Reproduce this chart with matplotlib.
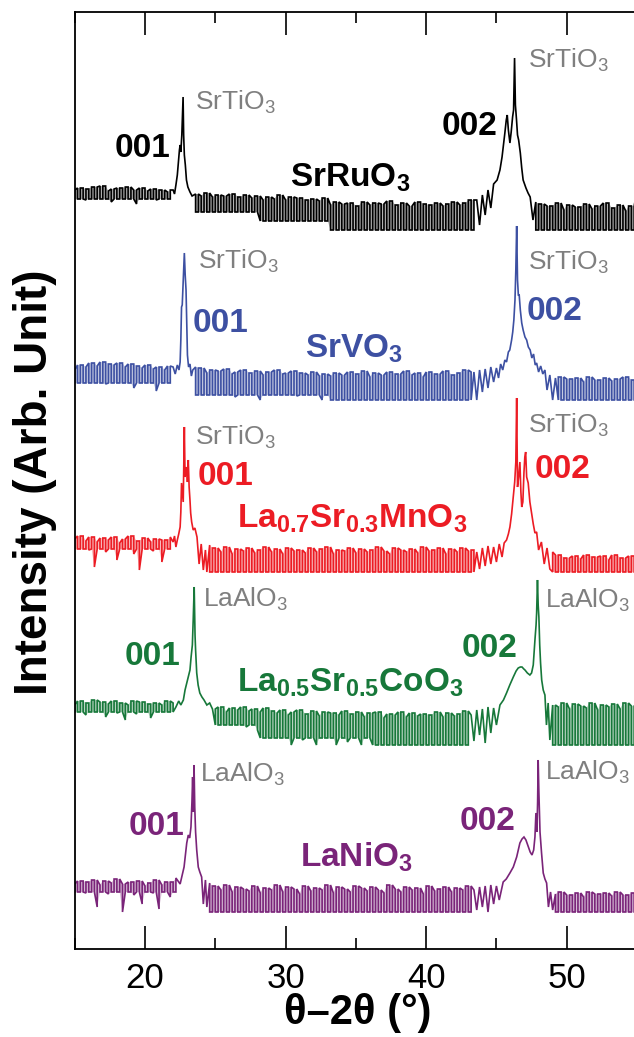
import numpy as np
import matplotlib
matplotlib.use("Agg")
import matplotlib.pyplot as plt
from matplotlib.ticker import MultipleLocator

plt.rcParams['font.family'] = ['Liberation Sans', 'DejaVu Sans']
plt.rcParams['mathtext.fontset'] = 'custom'
plt.rcParams['mathtext.rm'] = 'Liberation Sans'
plt.rcParams['mathtext.bf'] = 'Liberation Sans:bold'
plt.rcParams['mathtext.default'] = 'regular'

# ---------------- data ----------------
two_theta = np.round(np.linspace(15, 55, 201), 2)   # 0.2 deg scan bins

names = ['SrRuO$_3$', 'SrVO$_3$', 'La$_{0.7}$Sr$_{0.3}$MnO$_3$',
         'La$_{0.5}$Sr$_{0.5}$CoO$_3$', 'LaNiO$_3$']
substrates = ['SrTiO$_3$', 'SrTiO$_3$', 'SrTiO$_3$', 'LaAlO$_3$', 'LaAlO$_3$']
colors = ['#000000', '#3d50a2', '#ec1c24', '#17783a', '#7a2479']
offsets = [719, 549, 377, 204, 37]

# per-bin values of the noisy background
srruo3_bg = [40,33,42,36,30,41,35,43,32,38,44,34,39,28,41,36,42,31,37,43,35,40,26,38,42,33,39,35,41,30,37,40,34,38,36,40,
             43,63,133,70,45,38,
             32,36,25,34,30,37,22,33,28,35,31,18,34,29,36,27,33,20,31,35,26,32,29,34,15,30,27,33,24,31,28,35,22,30,26,33,19,29,32,25,30,12,28,31,24,29,27,32,21,
             25,10,28,18,26,5,22,27,14,24,0,20,28,12,25,19,27,8,23,26,15,29,0,21,25,11,27,17,24,3,22,28,13,26,20,25,0,23,27,16,24,9,26,21,28,14,25,0,27,22,30,18,
             30,35,40,45,50,55,65,80,115,87,113,110,90,77,60,50,43,37,33,30,28,
             22,0,26,8,0,24,15,0,27,5,20,0,25,12,0,23,18,0,26,3,21,0,24,10,0,27,16,0,22,6,25,0,19,0,24,13,0]
# band bottom levels: [start, end, level]
srruo3_band = [[15.0, 22.0, 31], [23.4, 28.0, 18], [28.2, 33.0, 9], [33.2, 55.0, 0]]
srruo3_p1_x = [22.0,22.1,22.2,22.3,22.35,22.45,22.5,22.55,22.62,22.68,22.71,22.75,22.8,22.87,22.95,23.05,23.2,23.35]
srruo3_p1_y = [40,36,45,55,63,80,85,78,95,120,133,95,75,65,50,43,38,34]
srruo3_p2_x = [43.6,43.8,44.0,44.2,44.4,44.6,44.8,45.05,45.25,45.4,45.5,45.6,45.7,45.77,45.85,45.96,46.05,46.15,46.22,46.29,
               46.35,46.43,46.5,46.58,46.7,46.8,46.9,47.0,47.1,47.25,47.4,47.6]
srruo3_p2_y = [30,5,35,15,40,22,46,50,60,73,85,97,110,115,100,87,98,113,120,172,125,110,95,90,77,62,50,46,42,37,33,10]

srvo3_bg = [30,22,35,18,33,27,37,20,34,25,38,16,36,28,35,22,37,19,33,26,36,12,34,24,32,18,35,27,31,9,33,23,30,17,34,26,
            30,38,95,147,110,45,33,
            28,20,32,12,27,22,30,6,25,29,15,31,21,26,3,28,18,30,24,10,27,22,29,0,25,19,28,13,24,30,8,26,21,27,16,29,4,23,27,18,25,11,28,20,24,0,26,17,
            24,8,27,15,0,25,19,28,4,22,26,12,29,0,23,18,27,7,25,21,0,28,14,24,26,3,22,29,11,25,0,27,17,23,9,28,20,0,26,13,24,29,6,25,19,0,27,22,30,15,28,
            28,30,32,33,35,38,40,45,50,60,70,110,174,105,77,63,55,50,45,40,37,33,30,28,27,25,24,23,22,
            20,0,23,9,0,21,14,0,22,5,18,0,23,11,0,20,16,0,22,2,19,0,21,8,0,23,13,0,20,6]
srvo3_band = [[15.0, 22.0, 17], [23.4, 33.0, 5], [33.2, 55.0, 0]]
srvo3_p1_x = [22.0,22.15,22.3,22.42,22.5,22.55,22.6,22.65,22.72,22.8,22.86,22.92,22.97,23.02,23.1,23.2,23.3,23.4]
srvo3_p1_y = [33,26,35,30,38,60,93,95,120,147,125,110,75,45,33,36,24,30]
srvo3_p2_x = [43.4,43.6,43.8,44.0,44.2,44.4,44.6,44.8,45.0,45.15,45.3,45.45,45.6,45.72,45.85,45.95,46.08,46.16,46.24,46.32,
              46.38,46.44,46.5,46.56,46.62,46.7,46.8,46.9,47.03,47.15,47.27,47.4,47.52,47.64,47.76,47.86,48.0,48.15,48.3,48.45,
              48.6,48.8,49.0,49.2]
srvo3_p2_y = [28,0,30,8,31,12,33,18,32,22,36,30,40,38,48,50,60,68,80,100,130,174,120,105,105,90,77,70,63,60,
              53,50,42,46,35,37,28,34,26,30,10,25,0,22]

lsmo_bg = [33,24,36,28,31,22,35,5,30,26,34,20,32,27,35,12,29,25,33,23,36,18,31,2,28,34,24,30,21,33,27,10,32,25,29,35,
           32,45,89,145,105,59,42,
           38,35,30,28,27,
           22,0,24,3,20,0,25,6,18,0,23,2,21,0,24,8,19,0,22,4,25,0,20,1,23,0,18,5,24,0,21,3,22,0,19,7,24,0,20,2,
           23,0,25,5,18,0,22,0,21,6,24,0,19,3,23,0,20,0,22,8,25,0,21,2,18,0,24,4,22,0,20,6,23,0,19,0,25,3,21,0,
           22,5,24,0,18,2,23,0,20,0,24,7,21,0,22,
           22,24,25,26,27,28,30,32,45,75,174,65,120,89,59,39,35,30,27,25,23,22,21,20,22,21,20,
           15,0,17,3,0,14,9,0,16,2,13,0,17,6,0,15,11,0,16,0,12,0,17,4,0,14,10,0,16,1,15]
lsmo_band = [[15.0, 22.0, 23], [24.4, 55.0, 0]]
lsmo_p1_x = [22.0,22.1,22.2,22.3,22.4,22.5,22.55,22.6,22.66,22.72,22.8,22.85,22.9,22.96,23.02,23.08,23.14,23.2,23.25,23.32,
             23.43,23.55,23.7,23.85,24.0,24.15,24.3,24.4]
lsmo_p1_y = [30,36,25,32,38,45,60,89,80,70,145,95,100,105,90,112,85,72,59,50,42,44,35,8,28,2,22,0]
lsmo_p2_x = [43.6,43.8,44.0,44.2,44.4,44.6,44.8,45.0,45.2,45.4,45.55,45.72,45.85,45.96,46.08,46.2,46.3,46.38,46.44,46.5,
             46.58,46.67,46.74,46.8,46.88,46.96,47.02,47.08,47.15,47.26,47.38,47.5,47.62,47.74,47.86,48.0,48.2,48.4,48.6,48.8]
lsmo_p2_y = [20,3,24,6,26,8,25,10,28,15,29,32,38,45,58,75,90,110,174,85,95,110,80,65,70,100,115,120,95,89,
             70,59,48,39,40,22,30,8,24,3]

lsco_bg = [40,34,44,37,30,42,36,45,33,39,43,28,41,35,44,32,38,42,25,40,36,44,31,39,43,34,41,27,38,42,35,40,33,44,37,41,
           42,45,50,62,75,158,72,52,45,42,40,38,36,35,
           36,24,38,28,33,20,37,26,35,22,38,18,34,27,36,15,33,25,37,21,34,8,32,26,35,12,30,0,33,19,35,5,28,31,14,34,0,29,22,33,
           9,27,32,0,30,17,34,3,26,31,11,33,0,28,20,32,6,29,33,0,27,15,31,2,30,24,33,10,28,0,32,18,29,4,31,26,0,30,13,33,
           7,28,25,32,0,29,16,31,22,34,27,
           30,33,28,35,31,36,38,42,52,60,68,77,78,75,72,70,132,165,82,55,48,42,40,38,36,40,35,38,34,
           40,5,38,0,42,12,36,0,41,3,39,0,37,8,42,0,35,2,40,0,38,10,41,0,36,4,42,0,39,0,37]
lsco_band = [[15.0, 22.0, 33], [25.0, 28.0, 20], [28.2, 36.0, 7], [36.2, 55.0, 0]]
lsco_p1_x = [22.2,22.4,22.55,22.73,22.85,22.97,23.08,23.2,23.28,23.37,23.43,23.5,23.56,23.6,23.68,23.78,23.9,24.05,24.2,24.4,24.6,24.8]
lsco_p1_y = [38,44,40,45,55,62,68,75,88,100,125,158,110,95,72,60,52,48,45,40,42,36]
lsco_p2_x = [43.2,43.4,43.6,43.8,44.0,44.2,44.4,44.6,44.8,45.0,45.25,45.5,45.72,45.95,46.2,46.4,46.55,46.7,46.82,46.95,
             47.03,47.2,47.38,47.5,47.62,47.74,47.82,47.86,47.92,47.97,48.02,48.08,48.14,48.22,48.33,48.45,48.56,48.68,48.8]
lsco_p2_y = [30,4,35,10,36,2,38,12,37,20,40,45,52,60,68,74,77,78,78,76,75,72,70,72,80,105,120,132,165,140,
             128,100,82,65,55,50,20,42,5]

lanio3_bg = [28,20,31,24,19,30,26,32,5,27,22,31,18,29,25,33,21,0,28,24,30,17,27,31,8,26,22,29,19,32,3,27,23,30,15,28,
             30,34,45,69,77,147,62,35,33,30,28,29,
             24,0,26,5,22,0,27,2,20,0,25,8,23,0,21,3,26,0,19,0,24,6,22,0,27,1,20,0,25,4,23,0,18,7,26,0,21,0,24,2,
             22,0,27,5,19,0,25,0,23,9,20,0,26,3,24,0,21,0,25,6,22,0,19,2,27,0,23,0,20,5,25,0,22,1,24,0,18,0,26,7,
             21,0,23,3,25,0,20,0,24,4,22,0,26,1,
             24,26,22,28,25,30,27,30,35,39,48,55,69,72,75,65,57,60,99,152,59,39,29,26,22,24,20,22,18,
             18,0,20,4,0,17,11,0,19,2,15,0,20,7,0,18,12,0,19,0,16,0,20,5,0,17,9,0,19,3]
lanio3_band = [[15.0, 22.2, 20], [24.6, 55.0, 0]]
lanio3_p1_x = [22.4,22.5,22.6,22.7,22.78,22.88,22.97,23.08,23.18,23.27,23.34,23.39,23.44,23.49,23.54,23.6,23.68,23.79,23.9,24.03,
               24.15,24.3,24.4]
lanio3_p1_y = [30,28,34,40,45,58,69,77,74,85,110,135,100,147,105,80,62,45,40,35,8,32,5]
lanio3_p2_x = [43.4,43.6,43.8,44.0,44.2,44.4,44.6,44.8,45.0,45.2,45.48,45.7,45.96,46.2,46.44,46.67,46.82,46.96,47.1,47.25,
               47.4,47.53,47.65,47.74,47.81,47.88,47.93,47.97,48.02,48.1,48.21,48.33,48.45,48.57,48.7,48.85,49.0]
lanio3_p2_y = [22,2,25,5,26,0,27,8,26,12,30,33,39,45,55,69,73,75,72,66,60,57,62,75,99,80,110,152,120,80,
               59,39,33,29,5,20,2]

backgrounds = [srruo3_bg, srvo3_bg, lsmo_bg, lsco_bg, lanio3_bg]
bands = [srruo3_band, srvo3_band, lsmo_band, lsco_band, lanio3_band]
peaks = [
    [(srruo3_p1_x, srruo3_p1_y), (srruo3_p2_x, srruo3_p2_y)],
    [(srvo3_p1_x, srvo3_p1_y), (srvo3_p2_x, srvo3_p2_y)],
    [(lsmo_p1_x, lsmo_p1_y), (lsmo_p2_x, lsmo_p2_y)],
    [(lsco_p1_x, lsco_p1_y), (lsco_p2_x, lsco_p2_y)],
    [(lanio3_p1_x, lanio3_p1_y), (lanio3_p2_x, lanio3_p2_y)],
]


def envelope(bg, band, pk):
    """Per-bin low/high of the noisy background (min/max rendering)."""
    x = np.asarray(two_theta, float)
    v = np.asarray(bg, float)
    hi = np.maximum(v, np.maximum(np.roll(v, 1), np.roll(v, -1)))
    lo = v.copy()
    for a, b, lev in band:
        m = (x >= a - 1e-9) & (x <= b + 1e-9)
        lo[m] = np.minimum(v[m], lev)
    keep = np.ones_like(x, bool)
    for px, _ in pk:
        keep &= ~((x >= px[0] - 0.15) & (x <= px[-1] + 0.15))
    return x, lo, hi, keep


def build_trace(bg, band, pk):
    """Background bins become vertical strokes low->high; peaks are point by point."""
    x, lo, hi, keep = envelope(bg, band, pk)
    pts = []
    k = 0
    for xi, h, l, kp in zip(x, hi, lo, keep):
        if not kp:
            continue
        if k % 2 == 0:
            pts += [(xi, 0, l), (xi, 1, h)]
        else:
            pts += [(xi, 0, h), (xi, 1, l)]
        k += 1
    for px, py in pk:
        pts += [(xx, 0, yy) for xx, yy in zip(px, py)]
    pts.sort(key=lambda t: (t[0], t[1]))
    return np.array([p[0] for p in pts]), np.array([p[2] for p in pts])


# ---------------- figure ----------------
W, H = 634, 1037
fig = plt.figure(figsize=(W / 100, H / 100), dpi=100)
ax = fig.add_axes([74.7 / W, (H - 949) / H, (637 - 74.7) / W, (949 - 12) / H])

for bg, band, pk, off, c in zip(backgrounds, bands, peaks, offsets, colors):
    x, lo, hi, keep = envelope(bg, band, pk)
    ax.fill_between(x, lo + off, hi + off, where=keep, color=c, alpha=0.3, lw=0)
    xs, ys = build_trace(bg, band, pk)
    ax.plot(xs, ys + off, color=c, lw=1.2, solid_joinstyle='miter')

ax.set_xlim(15, 55)
ax.set_ylim(0, 937)
ax.set_yticks([])
ax.xaxis.set_major_locator(MultipleLocator(10))
ax.xaxis.set_minor_locator(MultipleLocator(5))
ax.tick_params(axis='x', which='both', direction='in', top=True, bottom=True, width=1.2, pad=9,
               labelsize=25)
ax.tick_params(axis='x', which='major', length=16.5)
ax.tick_params(axis='x', which='minor', length=8)
for s in ['left', 'bottom', 'top']:
    ax.spines[s].set_linewidth(1.3)
ax.spines['right'].set_visible(False)

grey = '#7f7f7f'
# text positions (x in degrees, y = baseline height)
sub_pos = [[(23.56, 839), (47.26, 881)],
           [(23.78, 680), (47.24, 679)],
           [(23.57, 504), (47.25, 516)],
           [(24.15, 342), (48.45, 341)],
           [(23.91, 167), (48.45, 169)]]
hkl_pos = [[(17.87, 792), (41.10, 814)],
           [(23.36, 617), (47.15, 629)],
           [(23.78, 464), (47.74, 471)],
           [(18.58, 284), (42.52, 292)],
           [(18.81, 114), (42.40, 119)]]
name_pos = [(30.32, 762), (31.40, 591), (26.52, 421), (26.52, 257), (31.00, 82)]
hkl_labels = ['001', '002']

for i in range(5):
    for (sx, sy) in sub_pos[i]:
        ax.text(sx, sy, substrates[i], color=grey, fontsize=19, ha='left', va='baseline', clip_on=False)
    for (hx, hy), lab in zip(hkl_pos[i], hkl_labels):
        ax.text(hx, hy, lab, color=colors[i], fontsize=24, fontweight='bold', ha='left', va='baseline')
    nx, ny = name_pos[i]
    ax.text(nx, ny, names[i], color=colors[i], fontsize=24, fontweight='bold', ha='left', va='baseline')

fig.text(358 / W, 1 - 1013 / H, 'θ–2θ (°)', fontsize=30, fontweight='bold', ha='center', va='center')
fig.text(35 / W, 1 - 482 / H, 'Intensity (Arb. Unit)', fontsize=33, fontweight='bold',
         rotation=90, ha='center', va='center')

fig.savefig('out.png', dpi=100)
